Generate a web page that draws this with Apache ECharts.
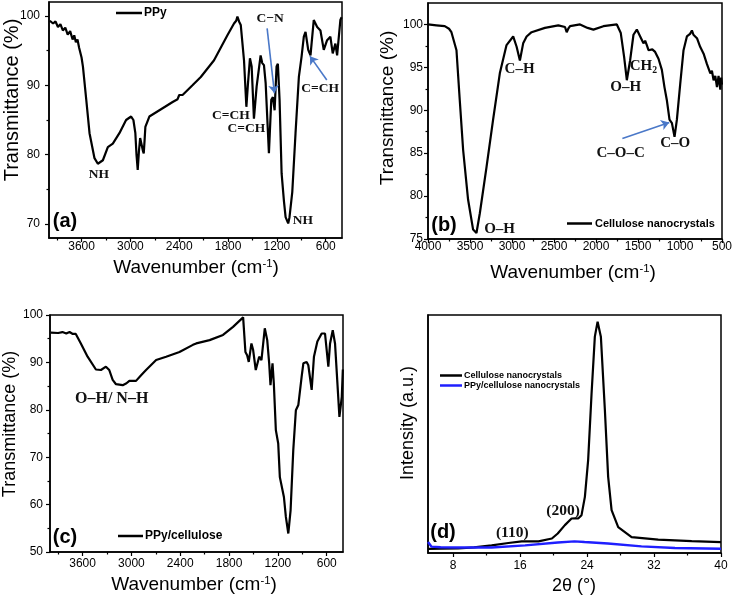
<!DOCTYPE html>
<html>
<head>
<meta charset="utf-8">
<script src="https://cdn.jsdelivr.net/npm/echarts@6/dist/echarts.min.js"></script>
<style>
  html, body { margin: 0; padding: 0; background: #fff; }
  #chart { width: 733px; height: 597px; }
</style>
</head>
<body>
<div id="chart"></div>
<script>
// (a) PPy FTIR
const ppyWavenumber = [3990, 3950, 3920, 3890, 3860, 3830, 3800, 3770, 3740, 3710, 3690, 3670, 3650, 3630, 3600, 3583, 3542, 3502, 3441, 3400, 3338, 3277, 3216, 3135, 3053, 2991, 2963, 2939, 2925, 2910, 2895, 2880, 2860, 2845, 2836, 2826, 2816, 2767, 2604, 2481, 2420, 2400, 2359, 2237, 2135, 1972, 1808, 1727, 1700, 1685, 1665, 1644, 1604, 1575, 1555, 1531, 1510, 1482, 1449, 1400, 1380, 1359, 1338, 1298, 1269, 1249, 1228, 1204, 1188, 1167, 1142, 1114, 1093, 1075, 1061, 1045, 1011, 971, 930, 897, 869, 848, 815, 787, 747, 705, 665, 624, 583, 543, 514, 481, 460, 420, 405]
const ppyTransmittance = [99.3, 98.9, 99.2, 98.4, 98.8, 97.9, 98.3, 97.3, 97.8, 96.6, 97.2, 96.2, 96.6, 95.4, 94.0, 92.7, 87.9, 83.1, 79.5, 78.7, 79.2, 81.1, 81.6, 83.1, 85.0, 85.5, 85.0, 83.1, 80.0, 77.8, 80.5, 82.4, 82.6, 80.5, 80.2, 82.0, 84.0, 85.5, 86.7, 87.6, 88.0, 88.6, 88.6, 90.0, 91.2, 93.6, 97.2, 98.9, 99.3, 99.9, 99.2, 98.7, 93.6, 86.9, 90.3, 93.9, 92.7, 85.2, 89.8, 94.3, 93.2, 92.9, 90.3, 80.2, 87.9, 88.3, 86.4, 92.7, 93.1, 87.9, 77.3, 73.4, 71.0, 71.2, 70.1, 71.0, 74.6, 83.1, 91.2, 94.1, 97.0, 97.7, 95.1, 94.3, 99.4, 98.4, 97.9, 95.1, 96.5, 97.0, 94.6, 96.0, 94.3, 99.4, 99.8]

// (b) cellulose nanocrystals FTIR
const cncWavenumber = [4000, 3900, 3801, 3750, 3721, 3661, 3622, 3582, 3523, 3463, 3423, 3383, 3303, 3225, 3145, 3065, 2986, 2945, 2906, 2867, 2826, 2767, 2608, 2449, 2369, 2349, 2330, 2309, 2190, 2100, 2031, 1912, 1752, 1705, 1665, 1633, 1594, 1554, 1514, 1474, 1435, 1415, 1395, 1375, 1355, 1330, 1296, 1256, 1216, 1185, 1157, 1140, 1125, 1096, 1065, 1037, 997, 958, 918, 880, 858, 840, 798, 760, 719, 680, 639, 620, 600, 580, 560, 541, 520, 510, 500]
const cncTransmittance = [100, 99.9, 99.8, 99.5, 99.1, 97.0, 91.2, 85.4, 79.6, 76.1, 75.7, 78.0, 83.4, 88.9, 94.3, 97.6, 98.6, 97.4, 95.8, 97.8, 98.6, 99.1, 99.6, 99.9, 99.7, 99.1, 99.5, 99.8, 100, 99.6, 99.4, 99.8, 100, 99.0, 96.2, 93.5, 95.8, 98.8, 99.4, 98.6, 97.8, 98.1, 97.6, 97.0, 96.8, 97.1, 96.8, 96.0, 94.7, 92.7, 91.2, 91.0, 88.9, 88.5, 86.9, 88.9, 93.1, 97.0, 98.6, 98.9, 99.3, 98.8, 98.4, 97.4, 96.6, 95.4, 94.3, 94.6, 93.5, 94.0, 92.7, 94.0, 92.4, 93.8, 93.0]

// (c) PPy/cellulose FTIR
const compWavenumber = [3990, 3900, 3847, 3800, 3760, 3720, 3683, 3621, 3538, 3436, 3374, 3313, 3272, 3230, 3189, 3107, 3060, 3025, 2943, 2881, 2820, 2696, 2573, 2409, 2244, 2203, 2039, 1874, 1751, 1627, 1607, 1599, 1578, 1558, 1525, 1504, 1472, 1430, 1402, 1361, 1331, 1307, 1291, 1266, 1250, 1225, 1196, 1176, 1126, 1102, 1072, 1044, 1011, 979, 949, 908, 887, 847, 826, 785, 757, 715, 662, 621, 580, 559, 526, 498, 444, 415, 402]
const compTransmittance = [96.3, 96.2, 96.4, 96.1, 96.4, 96.0, 96.0, 94.0, 91.2, 88.5, 88.4, 89.1, 88.4, 86.3, 85.4, 85.2, 85.6, 86.1, 86.1, 87.3, 88.4, 90.5, 91.2, 92.2, 93.7, 94.0, 94.7, 95.8, 97.5, 99.5, 99.9, 92.2, 91.5, 90.1, 94.0, 92.6, 88.4, 91.2, 90.5, 97.2, 94.7, 89.8, 85.2, 89.8, 85.6, 75.7, 72.9, 65.8, 61.6, 57.4, 53.9, 58.8, 71.5, 79.9, 81.0, 87.0, 89.8, 90.1, 89.4, 84.2, 91.2, 94.4, 96.1, 96.1, 89.1, 94.0, 96.8, 94.0, 78.5, 82.7, 88.5]

// (d) XRD
const cncAngle = [5.0, 6.5, 8.6, 10.5, 12.6, 14.6, 16.2, 18.2, 19.8, 20.5, 21.35, 22.15, 22.6, 22.94, 23.34, 23.74, 24.13, 24.54, 24.93, 25.26, 25.65, 26.13, 26.52, 26.93, 27.72, 29.32, 32.5, 36.5, 40.0]
const cncIntensity = [17, 18, 19, 24, 32, 42, 49, 49, 61, 82, 117, 145, 146, 145, 159, 236, 390, 671, 909, 972, 909, 600, 320, 180, 109, 67, 56, 50, 46]
const compAngle = [5.0, 5.4, 6.5, 8.6, 12.6, 16.6, 20.5, 22.5, 23.7, 26.5, 30.5, 34.5, 40.0]
const compIntensity = [46, 27, 24, 23, 23, 32, 44, 49, 46, 40, 28, 21, 18]

// tick values
const wnTicks = [600, 1200, 1800, 2400, 3000, 3600]
const wnMinor = [900, 1500, 2100, 2700, 3300, 3900]
const cncTicks = [500, 1000, 1500, 2000, 2500, 3000, 3500, 4000]
const cncMinor = [750, 1250, 1750, 2250, 2750, 3250, 3750]
const ppyYTicks = [70, 80, 90, 100]
const ppyYMinor = [75, 85, 95]
const cncYTicks = [75, 80, 85, 90, 95, 100]
const cncYMinor = [77.5, 82.5, 87.5, 92.5, 97.5]
const compYTicks = [50, 60, 70, 80, 90, 100]
const compYMinor = [55, 65, 75, 85, 95]
const angleTicks = [8, 16, 24, 32, 40]
const angleMinor = [12, 20, 28, 36]

const sans = "'Liberation Sans', Arial, sans-serif"
const serif = "'Liberation Serif', 'Times New Roman', serif"
const arrowBlue = '#4a78c8'

const zip = (xs, ys) => xs.map((x, i) => [x, ys[i]])

// main axis with labels + major ticks, and a twin axis carrying only minor ticks
function axisPair(dim, gridIndex, min, max, major, minor, margin, inverse, labels) {
  const base = {
    type: 'value', gridIndex, min, max, inverse: !!inverse,
    position: dim === 'x' ? 'bottom' : 'left',
    splitLine: { show: false },
    axisLine: { show: true, onZero: false, lineStyle: { color: '#000', width: 1.5 } },
  }
  const main = Object.assign({}, base, {
    axisTick: { show: major.length > 0, length: 4, customValues: major, lineStyle: { color: '#000', width: 1.2 } },
    axisLabel: {
      show: labels !== false, customValues: major, margin, color: '#000', fontSize: 12, fontFamily: sans,
      formatter: (v) => String(v),
    },
  })
  const sub = Object.assign({}, base, {
    axisLine: { show: false },
    axisTick: { show: minor.length > 0, length: 2.5, customValues: minor, lineStyle: { color: '#000', width: 1.2 } },
    axisLabel: { show: false },
  })
  return [main, sub]
}

const xAxes = [
  ...axisPair('x', 0, 400, 4000, wnTicks, wnMinor, 3, true),
  ...axisPair('x', 1, 500, 4000, cncTicks, cncMinor, 2, true),
  ...axisPair('x', 2, 400, 4000, wnTicks, wnMinor, 6, true),
  ...axisPair('x', 3, 5, 40, angleTicks, angleMinor, 7, false),
]
const yAxes = [
  ...axisPair('y', 0, 68, 102, ppyYTicks, ppyYMinor, 9),
  ...axisPair('y', 1, 75, 102.5, cncYTicks, cncYMinor, 5),
  ...axisPair('y', 2, 50, 100, compYTicks, compYMinor, 7),
  ...axisPair('y', 3, 0, 1000, [], [], 5, false, false),
]

const gridBase = { show: true, borderColor: '#000', borderWidth: 1.5, backgroundColor: 'transparent', outerBoundsMode: 'none' }

function notes(size, items) {
  return {
    silent: true,
    symbol: 'circle',
    symbolSize: 0,
    itemStyle: { color: 'transparent' },
    label: {
      show: true, position: 'inside', formatter: '{b}', color: '#111',
      fontFamily: serif, fontWeight: 'bold', fontSize: size,
      rich: {
        t: { fontFamily: serif, fontWeight: 'bold', fontSize: size, color: '#111' },
        s: { fontFamily: serif, fontWeight: 'bold', fontSize: size * 0.65, color: '#111', padding: [8, 0, 0, 0] },
      },
    },
    data: items,
  }
}

function arrows(pairs) {
  return {
    silent: true,
    symbol: ['none', 'arrow'],
    symbolSize: 8,
    lineStyle: { color: arrowBlue, width: 1.6, type: 'solid' },
    label: { show: false },
    data: pairs.map(p => [{ coord: p[0] }, { coord: p[1] }]),
  }
}

const lineBase = { type: 'line', showSymbol: false, symbol: 'none', animation: false }

const series = [
  Object.assign({}, lineBase, {
    name: 'PPy', xAxisIndex: 0, yAxisIndex: 0,
    data: zip(ppyWavenumber, ppyTransmittance),
    lineStyle: { color: '#000', width: 2.2 }, itemStyle: { color: '#000' },
    markPoint: notes(13.5, [
      { name: 'NH', coord: [3387, 77.1] },
      { name: 'C=CH', coord: [1765, 85.7] },
      { name: 'C=CH', coord: [1576, 83.75] },
      { name: 'C−N', coord: [1283, 99.65] },
      { name: 'C=CH', coord: [669, 89.6] },
      { name: 'NH', coord: [880, 70.45] },
    ]),
    markLine: arrows([
      [[1320, 98.2], [1230, 88.85]],
      [[587, 90.76], [794, 94.2]],
    ]),
  }),
  Object.assign({}, lineBase, {
    name: 'Cellulose nanocrystals', xAxisIndex: 2, yAxisIndex: 2,
    data: zip(cncWavenumber, cncTransmittance),
    lineStyle: { color: '#000', width: 2.2 }, itemStyle: { color: '#000' },
    markPoint: notes(15, [
      { name: 'C–H', coord: [2910, 94.8] },
      { name: 'O–H', coord: [3148, 76.2] },
      { name: 'O–H', coord: [1647, 92.67] },
      { name: 'CH2', coord: [1435, 95.1], label: { formatter: '{t|CH}{s|2}' } },
      { name: 'C–O–C', coord: [1707, 84.97] },
      { name: 'C–O', coord: [1057, 86.14] },
    ]),
    markLine: arrows([[[1686, 86.72], [1128, 88.58]]]),
  }),
  Object.assign({}, lineBase, {
    name: 'PPy/cellulose', xAxisIndex: 4, yAxisIndex: 4,
    data: zip(compWavenumber, compTransmittance),
    lineStyle: { color: '#000', width: 2.2 }, itemStyle: { color: '#000' },
    markPoint: notes(16, [
      { name: 'O–H/ N–H', coord: [3242, 82.4] },
    ]),
  }),
  Object.assign({}, lineBase, {
    name: 'Cellulose nanocrystals', xAxisIndex: 6, yAxisIndex: 6,
    data: zip(cncAngle, cncIntensity),
    lineStyle: { color: '#000', width: 2.2 }, itemStyle: { color: '#000' },
    markPoint: notes(15.5, [
      { name: '(110)', coord: [15.07, 85] },
      { name: '(200)', coord: [21.14, 176] },
    ]),
  }),
  Object.assign({}, lineBase, {
    name: 'PPy/cellulose nanocrystals', xAxisIndex: 6, yAxisIndex: 6,
    data: zip(compAngle, compIntensity),
    lineStyle: { color: '#1f1fff', width: 2.4 }, itemStyle: { color: '#1f1fff' },
  }),
]

const legendBase = {
  padding: 0, icon: 'rect', itemHeight: 2.5, selectedMode: false,
}
const legends = [
  Object.assign({}, legendBase, { data: ['PPy'], left: 116, top: 7, itemWidth: 26,
    textStyle: { fontFamily: sans, fontWeight: 'bold', fontSize: 12, color: '#000', padding: [0, 0, 0, -3] } }),
  Object.assign({}, legendBase, { data: ['Cellulose nanocrystals'], left: 567, top: 218, itemWidth: 25,
    textStyle: { fontFamily: sans, fontWeight: 'bold', fontSize: 11, color: '#000', padding: [0, 0, 0, -2] } }),
  Object.assign({}, legendBase, { data: ['PPy/cellulose'], left: 118, top: 530, itemWidth: 25,
    textStyle: { fontFamily: sans, fontWeight: 'bold', fontSize: 12, color: '#000', padding: [0, 0, 0, -3] } }),
  Object.assign({}, legendBase, { data: ['Cellulose nanocrystals', 'PPy/cellulose nanocrystals'], orient: 'vertical',
    left: 440, top: 371, itemWidth: 22, itemGap: 1,
    textStyle: { fontFamily: sans, fontWeight: 'bold', fontSize: 9, color: '#000', padding: [0, 0, 0, -3] } }),
]

function title(x, y, text, size, vertical) {
  return {
    type: 'text', x, y, rotation: vertical ? Math.PI / 2 : 0, silent: true,
    style: {
      text, fill: '#000', font: size + 'px ' + sans, align: 'center', verticalAlign: 'middle',
      rich: {
        t: { fontSize: size, fontFamily: sans, fill: '#000' },
        s: { fontSize: size * 0.6, fontFamily: sans, fill: '#000', padding: [0, 0, 9, 0] },
      },
    },
  }
}
function panelTag(x, y, text) {
  return { type: 'text', x, y, silent: true,
    style: { text, fill: '#000', font: 'bold 20px ' + sans, align: 'center', verticalAlign: 'middle' } }
}
const wnTitle = '{t|Wavenumber (cm}{s|-1}{t|)}'

const chart = echarts.init(document.getElementById('chart'))
chart.setOption({
  animation: false,
  backgroundColor: '#fff',
  grid: [
    Object.assign({}, gridBase, { left: 49, top: 2, width: 293, height: 236 }),
    Object.assign({}, gridBase, { left: 428, top: 3, width: 294, height: 236 }),
    Object.assign({}, gridBase, { left: 50, top: 315, width: 293, height: 237 }),
    Object.assign({}, gridBase, { left: 428, top: 315, width: 293, height: 238 }),
  ],
  xAxis: xAxes,
  yAxis: yAxes,
  legend: legends,
  series,
  graphic: [
    title(12, 100, 'Transmittance (%)', 20, true),
    title(388, 108, 'Transmittance (%)', 19, true),
    title(10, 424, 'Transmittance (%)', 18, true),
    title(408, 423, 'Intensity (a.u.)', 18, true),
    title(196, 268, wnTitle, 19),
    title(573, 273, wnTitle, 19),
    title(194, 585, wnTitle, 19),
    title(574, 586, '2θ (°)', 18),
    panelTag(65, 221, '(a)'),
    panelTag(444, 225, '(b)'),
    panelTag(65, 537, '(c)'),
    panelTag(443, 532, '(d)'),
  ],
})
</script>
</body>
</html>
